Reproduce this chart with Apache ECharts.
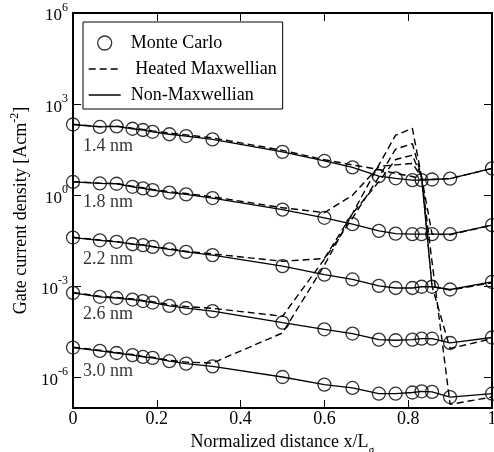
<!DOCTYPE html>
<html>
<head>
<meta charset="utf-8">
<script src="https://cdn.jsdelivr.net/npm/echarts@6/dist/echarts.min.js"></script>
<style>html,body{margin:0;padding:0;background:#fff}#c{width:494px;height:452px}</style>
</head>
<body>
<div id="c"></div>
<script>
// x positions (normalized distance x/Lg)
var xPts = [0, 0.064, 0.104, 0.142, 0.167, 0.19, 0.23, 0.27, 0.333, 0.5, 0.6, 0.667, 0.73, 0.77, 0.81, 0.832, 0.857, 0.9, 1.0];
// log10 of gate current density, Monte Carlo (also Non-Maxwellian)
var mc14 = [2.33, 2.25, 2.27, 2.19, 2.15, 2.09, 2.01, 1.95, 1.84, 1.43, 1.13, 0.92, 0.63, 0.56, 0.50, 0.50, 0.52, 0.55, 0.885];
var mc18 = [0.44, 0.39, 0.38, 0.28, 0.23, 0.17, 0.09, 0.03, -0.09, -0.47, -0.74, -0.95, -1.17, -1.26, -1.28, -1.28, -1.28, -1.28, -0.98];
var mc22 = [-1.39, -1.48, -1.53, -1.61, -1.64, -1.70, -1.78, -1.86, -1.97, -2.33, -2.61, -2.77, -2.98, -3.05, -3.05, -3.01, -3.01, -3.10, -2.85];
var mc26 = [-3.21, -3.34, -3.38, -3.43, -3.48, -3.53, -3.64, -3.71, -3.81, -4.19, -4.41, -4.55, -4.75, -4.77, -4.75, -4.72, -4.72, -4.86, -4.68];
var mc30 = [-5.01, -5.12, -5.19, -5.26, -5.32, -5.35, -5.46, -5.54, -5.63, -5.98, -6.23, -6.34, -6.53, -6.53, -6.49, -6.45, -6.47, -6.64, -6.53];
// Heated Maxwellian (log10)
var hm14 = [2.34, 2.26, 2.28, 2.21, 2.17, 2.12, 2.05, 1.99, 1.89, 1.48, 1.17, 1.0, 0.85, 0.72, 0.62, 0.52, 0.52, 0.55, 0.885];
var hm18 = [0.45, 0.40, 0.39, 0.30, 0.25, 0.19, 0.12, 0.06, -0.05, -0.41, -0.57, 0.0, 0.95, 1.0, 1.05, 0.6, -1.28, -1.30, -0.98];
var hm22 = [-1.38, -1.47, -1.52, -1.60, -1.63, -1.68, -1.76, -1.84, -1.93, -2.17, -2.08, -0.6, 0.45, 1.18, 1.32, 0.6, -3.0, -3.12, -2.88];
var hm26 = [-3.20, -3.32, -3.36, -3.41, -3.46, -3.50, -3.60, -3.66, -3.72, -3.98, -2.1, -0.75, 0.6, 1.52, 1.70, 0.6, -3.0, -5.04, -4.72];
var hm30 = [-5.00, -5.10, -5.17, -5.24, -5.30, -5.33, -5.43, -5.49, -5.52, -4.53, -2.3, -0.6, 1.0, 1.98, 2.2, 0.6, -2.2, -6.88, -6.64];
// oxide thickness annotations
var annText = ['1.4 nm', '1.8 nm', '2.2 nm', '2.6 nm', '3.0 nm'];
var annX = 0.024;
var annY = [1.62, -0.23, -2.10, -3.91, -5.79];
// axis ticks
var yTickExp = [-6, -3, 0, 3, 6];

var FONT = 'Liberation Serif';
function pairs(xs, ys) { return xs.map(function (x, i) { return [x, ys[i]]; }); }

var dashType = [7, 4];
var mcSets = [mc14, mc18, mc22, mc26, mc30];
var hmSets = [hm14, hm18, hm22, hm26, hm30];
var series = [];
hmSets.forEach(function (s) {
  series.push({ name: 'Heated Maxwellian', type: 'line', data: pairs(xPts, s), symbol: 'none', z: 2,
    itemStyle: { color: '#000' },
    lineStyle: { color: '#000', width: 1.4, type: dashType } });
});
mcSets.forEach(function (s) {
  series.push({ name: 'Non-Maxwellian', type: 'line', data: pairs(xPts, s), symbol: 'none', z: 3,
    itemStyle: { color: '#000' },
    lineStyle: { color: '#000', width: 1.3, type: 'solid' } });
});
mcSets.forEach(function (s) {
  series.push({ name: 'Monte Carlo', type: 'scatter', data: pairs(xPts, s), symbol: 'circle', symbolSize: 13, z: 4,
    itemStyle: { color: 'rgba(0,0,0,0)', borderColor: '#000', borderWidth: 1.3 } });
});
series.push({ type: 'scatter', name: 'ann', symbolSize: 0, silent: true, z: 5,
  data: annY.map(function (y, i) { return { value: [annX, y], label: { formatter: annText[i] } }; }),
  label: { show: true, position: 'right', distance: 0, color: '#000', fontFamily: FONT, fontSize: 18 } });

var axisLineStyle = { color: '#000', width: 2 };
var chart = echarts.init(document.getElementById('c'), null, { renderer: 'canvas' });
chart.setOption({
  animation: false,
  backgroundColor: '#fff',
  grid: { left: 73, right: 2, top: 13, bottom: 44, outerBoundsMode: 'none' },
  legend: {
    data: [
      { name: 'Monte Carlo', icon: 'circle', itemStyle: { color: 'rgba(0,0,0,0)', borderColor: '#000', borderWidth: 1.3 } },
      { name: 'Heated Maxwellian', itemStyle: { opacity: 0 }, lineStyle: { color: '#000', width: 1.4, type: dashType, opacity: 1 } },
      { name: 'Non-Maxwellian', itemStyle: { opacity: 0 }, lineStyle: { color: '#000', width: 1.3, type: 'solid', opacity: 1 } }
    ],
    orient: 'vertical', left: 83, top: 22, itemWidth: 32, itemHeight: 14, itemGap: 8,
    padding: [12, 6, 5, 5], borderColor: '#000', borderWidth: 1, backgroundColor: '#fff',
    selectedMode: false,
    formatter: function (n) { return n === 'Heated Maxwellian' ? ' Heated Maxwellian' : n; },
    textStyle: { fontFamily: FONT, fontSize: 18, color: '#000', lineHeight: 18, padding: [0, 0, 0, 5] }
  },
  xAxis: [{
    type: 'value', min: 0, max: 1, interval: 0.2, position: 'bottom',
    axisLine: { onZero: false, lineStyle: axisLineStyle }, splitLine: { show: false },
    axisTick: { inside: true, length: 8, lineStyle: { color: '#000', width: 1 } },
    axisLabel: { color: '#000', fontFamily: FONT, fontSize: 18, margin: 2 },
    name: '{n|Normalized distance x/L}{s|g}', nameLocation: 'middle', nameGap: 14,
    nameTextStyle: { color: '#000', fontFamily: FONT, fontSize: 18,
      rich: { n: { fontFamily: FONT, fontSize: 18, lineHeight: 20, verticalAlign: 'top', color: '#000' },
              s: { fontFamily: FONT, fontSize: 12, padding: [12, 0, 0, 0], color: '#000' } } }
  }, {
    type: 'value', min: 0, max: 1, interval: 0.2, position: 'top',
    axisLine: { onZero: false, lineStyle: axisLineStyle }, splitLine: { show: false },
    axisTick: { inside: true, length: 8, lineStyle: { color: '#000', width: 1 } },
    axisLabel: { show: false }
  }],
  yAxis: [{
    type: 'value', min: -7, max: 6, position: 'left',
    axisLine: { onZero: false, lineStyle: axisLineStyle }, splitLine: { show: false },
    axisTick: { inside: true, length: 8, customValues: yTickExp, lineStyle: { color: '#000', width: 1 } },
    axisLabel: { customValues: yTickExp, margin: 5, color: '#000', fontFamily: FONT,
      formatter: function (v) { return '{b|10}{s|' + v + '}'; },
      rich: { b: { fontFamily: FONT, fontSize: 17, padding: [6, 0, 0, 0], color: '#000' },
              s: { fontFamily: FONT, fontSize: 12, lineHeight: 12, verticalAlign: 'top', color: '#000' } } },
    name: '{n|Gate current density [Acm}{s|-2}{n|]}', nameLocation: 'middle', nameGap: 32,
    nameTextStyle: { color: '#000', fontFamily: FONT, fontSize: 18,
      rich: { n: { fontFamily: FONT, fontSize: 18, padding: [3, 0, 0, 0], color: '#000' },
              s: { fontFamily: FONT, fontSize: 12, lineHeight: 12, verticalAlign: 'top', color: '#000' } } }
  }, {
    type: 'value', min: -7, max: 6, position: 'right',
    axisLine: { onZero: false, lineStyle: axisLineStyle }, splitLine: { show: false },
    axisTick: { inside: true, length: 8, customValues: yTickExp, lineStyle: { color: '#000', width: 1 } },
    axisLabel: { show: false }
  }],
  series: series
});
</script>
</body>
</html>
